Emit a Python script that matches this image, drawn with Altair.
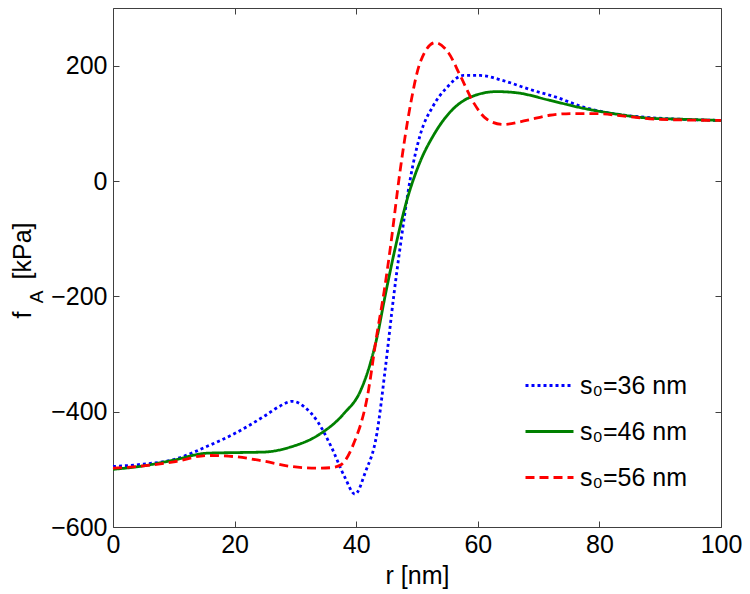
import altair as alt
import pandas as pd

# s0 = 36 nm (blue dotted)
r36 = [0, 5, 10, 15.5, 20, 25, 27.5, 29.5, 31.5, 33.7, 35.9, 38.1, 39.8, 41.5, 43.4, 44.8, 46.2, 47.2, 48.9, 50.5, 52.7, 54.9, 57.6, 60.4, 64.2, 68.5, 73, 77.4, 82.8, 88.2, 93.8, 100]
f36 = [-495, -491, -483, -460, -438, -407, -390, -382, -392, -418, -461, -513, -543, -505, -438, -324, -197, -117, 4, 79, 131, 162, 183, 183, 174, 159, 145, 128, 116, 110, 107, 105]

# s0 = 46 nm (green solid)
r46 = [0, 5, 10, 15.5, 20, 24.9, 29.3, 33.7, 38, 40.7, 42.3, 43.4, 44.8, 46.4, 48.4, 50.5, 52.7, 55.4, 58.7, 63.1, 66.4, 71.8, 77.4, 82.8, 88.2, 93.8, 100]
f46 = [-500, -494, -484, -472, -471, -470, -461, -441, -403, -364, -317, -272, -197, -117, -31, 33, 79, 119, 145, 155, 153, 140, 126, 116, 109, 107, 105]

# s0 = 56 nm (red dashed)
r56 = [0, 5, 10, 15.5, 20, 24.9, 29.3, 33.7, 36, 37.5, 39.6, 41.8, 43.4, 44.6, 45.6, 47.2, 48.9, 50.5, 53, 55.2, 57.1, 59.3, 61.5, 64.2, 68, 71.8, 75.7, 79.5, 84.4, 89.9, 100]
f56 = [-498, -494, -487, -476, -478, -486, -495, -498, -497, -492, -455, -376, -266, -191, -117, 16, 131, 205, 240, 222, 183, 136, 107, 98, 105, 114, 117, 117, 112, 107, 105]

labels = ["s₀=36 nm", "s₀=46 nm", "s₀=56 nm"]
colors = ["#0000ff", "#008000", "#ff0000"]
dashes = [[3, 3], [1, 0], [9, 5]]

x_ticks = [0, 20, 40, 60, 80, 100]
y_ticks = [-600, -400, -200, 0, 200]

rows = []
for lab, rs, fs in zip(labels, [r36, r46, r56], [f36, f46, f56]):
    for r, f in zip(rs, fs):
        rows.append({"r": r, "f": f, "s": lab})
df = pd.DataFrame(rows)

FONT = "Liberation Sans"
FS = 25
FRAME = "#404040"
xs = alt.Scale(domain=[0, 100], nice=False)
ys = alt.Scale(domain=[-600, 300], nice=False)

common_axis = dict(grid=False, domain=False, tickSize=6, offset=-6, tickColor=FRAME,
                   labelColor="black", labelFont=FONT, labelFontSize=FS, tickWidth=1,
                   labelFlush=False)

leg = alt.Legend(title=None, orient="none", legendX=411, legendY=352, symbolType="stroke",
                 symbolSize=2304, symbolStrokeWidth=3, labelFontSize=FS, labelFont=FONT,
                 labelColor="black", labelOffset=5, rowPadding=7, padding=0)

lines = alt.Chart(df).mark_line(strokeWidth=2.8, interpolate="monotone").encode(
    x=alt.X("r:Q", scale=xs, axis=alt.Axis(orient="bottom", values=x_ticks, title="r [nm]",
                                           titleFont=FONT, titleFontSize=FS, titleFontWeight="normal",
                                           titleColor="black", labelPadding=5, titlePadding=6, **common_axis)),
    y=alt.Y("f:Q", scale=ys, axis=alt.Axis(orient="left", values=y_ticks, title=None,
                                           labelPadding=6, **common_axis)),
    color=alt.Color("s:N", scale=alt.Scale(domain=labels, range=colors), legend=leg),
    strokeDash=alt.StrokeDash("s:N", scale=alt.Scale(domain=labels, range=dashes), legend=leg),
)

frame = alt.Chart(df).mark_line(opacity=0).encode(
    x=alt.X("r:Q", scale=xs, axis=alt.Axis(orient="top", values=x_ticks, labels=False, title=None, **common_axis)),
    y=alt.Y("f:Q", scale=ys, axis=alt.Axis(orient="right", values=y_ticks, labels=False, title=None, **common_axis)),
)

t_f = alt.Chart(pd.DataFrame({"t": ["f"]})).mark_text(angle=270, fontSize=FS, font=FONT, color="black",
                                                      baseline="alphabetic", align="center").encode(
    x=alt.value(-82), y=alt.value(307), text="t:N")
t_a = alt.Chart(pd.DataFrame({"t": ["A"]})).mark_text(angle=270, fontSize=19, font=FONT, color="black",
                                                      baseline="alphabetic", align="center").encode(
    x=alt.value(-70), y=alt.value(289), text="t:N")
t_k = alt.Chart(pd.DataFrame({"t": ["[kPa]"]})).mark_text(angle=270, fontSize=FS, font=FONT, color="black",
                                                          baseline="alphabetic", align="center").encode(
    x=alt.value(-82), y=alt.value(243), text="t:N")

chart = alt.layer(lines, frame, t_f, t_a, t_k).resolve_axis(x="independent", y="independent").properties(
    width=608, height=519,
    autosize=alt.AutoSizeParams(type="none"),
    padding={"left": 105, "top": 0, "right": 21, "bottom": 66},
).configure_view(stroke=FRAME, strokeWidth=1)

chart.save("out.html", embed_options={"renderer": "svg", "actions": False})
